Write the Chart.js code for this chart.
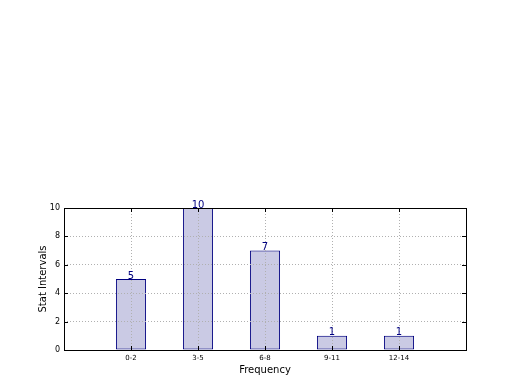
<!DOCTYPE html>
<html>
<head>
<meta charset="utf-8">
<script src="https://cdn.jsdelivr.net/npm/chart.js@4"></script>
<style>
  html, body { margin: 0; padding: 0; background: #fff; }
  #wrap { width: 520px; height: 390px; }
</style>
</head>
<body>
<div id="wrap"><canvas id="barChart" width="520" height="390"></canvas></div>
<script>
// Chart data
const categories = ['0-2', '3-5', '6-8', '9-11', '12-14'];
const counts = [5, 10, 7, 1, 1];
const yTicks = [0, 2, 4, 6, 8, 10];

const navy = '#000080';

// Frame, inward tick marks and the value labels on top of the bars
const framePlugin = {
    id: 'frame',
    afterDraw(chart) {
        const ctx = chart.ctx;
        const a = chart.chartArea;
        const xs = chart.scales.x, ys = chart.scales.y;
        ctx.save();
        ctx.strokeStyle = '#000';
        ctx.lineWidth = 1;
        ctx.beginPath();
        yTicks.forEach(t => {
            const y = Math.round(ys.getPixelForValue(t)) + 0.5;
            ctx.moveTo(a.left, y); ctx.lineTo(a.left + 4, y);
            ctx.moveTo(a.right, y); ctx.lineTo(a.right - 4, y);
        });
        categories.forEach((c, i) => {
            const x = Math.round(xs.getPixelForValue(i)) + 0.5;
            ctx.moveTo(x, a.bottom); ctx.lineTo(x, a.bottom - 4);
            ctx.moveTo(x, a.top); ctx.lineTo(x, a.top + 4);
        });
        ctx.stroke();
        ctx.strokeRect(Math.round(a.left) + 0.5, Math.round(a.top) + 0.5,
            Math.round(a.right - a.left), Math.round(a.bottom - a.top));

        ctx.fillStyle = navy;
        ctx.font = '10px "DejaVu Sans"';
        ctx.textAlign = 'center';
        ctx.textBaseline = 'bottom';
        chart.getDatasetMeta(0).data.forEach((bar, i) => {
            ctx.fillText(String(counts[i]), bar.x, bar.y + 2);
        });
        ctx.restore();
    }
};

const ctx = document.getElementById('barChart').getContext('2d');
new Chart(ctx, {
    type: 'bar',
    data: {
        datasets: [{
            data: counts.map((v, i) => ({ x: i, y: v })),
            backgroundColor: 'rgba(180, 180, 216, 0.7)',
            borderColor: navy,
            borderWidth: 1,
            borderSkipped: false,
            barPercentage: 0.45,
            categoryPercentage: 1
        }]
    },
    options: {
        responsive: false,
        animation: false,
        layout: { padding: { left: 0, right: 54, top: 208, bottom: 0 } },
        plugins: {
            legend: { display: false },
            tooltip: { enabled: false }
        },
        scales: {
            x: {
                type: 'linear',
                min: -1,
                max: 5,
                offset: false,
                afterBuildTicks: scale => {
                    scale.ticks = categories.map((c, i) => ({ value: i }));
                },
                afterFit: scale => { scale.height = 40; },
                border: { display: false, dash: [1, 2] },
                grid: { color: '#b0b0b0', lineWidth: 1, z: 1, drawTicks: false, offset: false },
                ticks: {
                    color: '#000',
                    font: { family: 'DejaVu Sans', size: 7 },
                    padding: 4,
                    maxRotation: 0,
                    autoSkip: false,
                    callback: v => categories[v] ?? ''
                },
                title: {
                    display: true,
                    text: 'Frequency',
                    color: '#000',
                    font: { family: 'DejaVu Sans', size: 10 },
                    padding: { top: 2, bottom: 14 }
                }
            },
            y: {
                min: 0,
                max: 10,
                afterBuildTicks: scale => {
                    scale.ticks = yTicks.map(v => ({ value: v }));
                },
                afterFit: scale => { scale.width = 64; },
                border: { display: false, dash: [1, 2] },
                grid: { color: '#b0b0b0', lineWidth: 1, z: 1, drawTicks: false },
                ticks: {
                    color: '#000',
                    font: { family: 'DejaVu Sans', size: 8 },
                    padding: 4
                },
                title: {
                    display: true,
                    text: 'Stat Intervals',
                    color: '#000',
                    font: { family: 'DejaVu Sans', size: 10 },
                    padding: { top: 37, bottom: 0 }
                }
            }
        }
    },
    plugins: [framePlugin]
});
</script>
</body>
</html>
